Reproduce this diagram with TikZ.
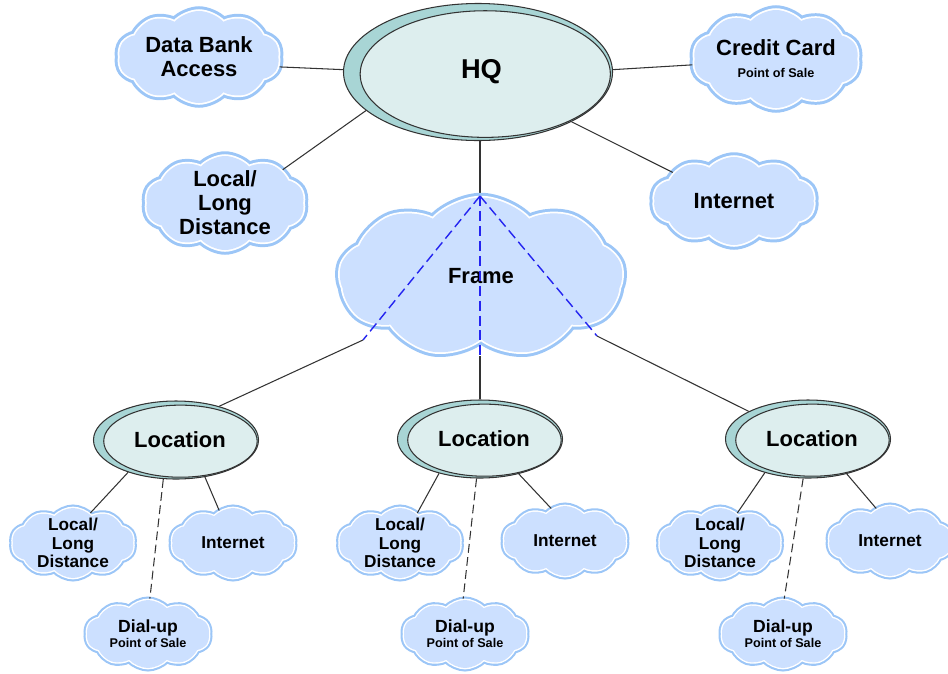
\documentclass[tikz,border=0pt]{standalone}
\usepackage{fontspec}
\setmainfont{Liberation Sans}
\usetikzlibrary{shapes.symbols,shapes.geometric,calc}

\definecolor{cloudfill}{HTML}{CCE0FF}
\definecolor{cloudedge}{HTML}{9CC6F7}
\definecolor{ringfill}{HTML}{A8D5D5}
\definecolor{corefill}{HTML}{DDEEEE}
\definecolor{framedash}{HTML}{2424F0}

\tikzset{
  cloudbase/.style={cloud, cloud puffs=10, cloud puff arc=95, cloud ignores aspect, inner sep=0pt,
    draw=white, postaction={fill=cloudfill}, align=center},
  puff/.style={cloudbase, preaction={draw=cloudedge, line width=5.4pt}, line width=2pt},
  minipuff/.style={cloudbase, preaction={draw=cloudedge, line width=4pt}, line width=1.6pt},
  ring/.style={ellipse, draw=black!80, line width=0.6pt, fill=ringfill, inner sep=0pt,
    path picture={
      \draw[black!80, line width=0.6pt, fill=corefill]
        let \p1=(path picture bounding box.south west),
            \p2=(path picture bounding box.north east) in
        ($(\p1)!0.5!(\p2)+({0.027*(\x2-\x1)},{-0.015*(\y2-\y1)})$)
        ellipse ({0.465*(\x2-\x1)} and {0.462*(\y2-\y1)});
    }},
  big/.style={font=\bfseries\fontsize{12.5}{13.6}\selectfont},
  small/.style={font=\bfseries\fontsize{9.8}{10.4}\selectfont},
  link/.style={draw=black!80, line width=0.6pt},
  dialink/.style={link, dash pattern=on 5pt off 2.5pt},
  framelink/.style={draw=framedash, line width=0.8pt, dash pattern=on 5.7pt off 2.8pt}
}
\newcommand{\pos}{\fontsize{7.2}{8}\selectfont Point of Sale}

\begin{document}
\begin{tikzpicture}[x=0.2mm, y=-0.2mm]
  \useasboundingbox (0,0) rectangle (948,673);

  % links behind the shapes
  \coordinate (ftop) at (480,196);
  \coordinate (fleft) at (363,340);
  \coordinate (fright) at (597,336);
  \coordinate (fbot) at (480,356);

  % top level
  \node[ring, minimum width=53.8mm, minimum height=27.4mm,
        font=\bfseries\fontsize{15.5}{17}\selectfont] (hq) at (478,72) {\hspace{1.4mm}HQ};
  \node[puff, big, minimum width=32.2mm, minimum height=18.4mm, inner ysep=-3pt] (dba) at (199,57) {Data Bank\\Access};
  \node[puff, big, minimum width=32.6mm, minimum height=19.6mm, inner ysep=-4pt] (ccard) at (776,59) {Credit Card\\[-1pt]{\pos}};
  \node[puff, big, minimum width=31.8mm, minimum height=18.8mm, inner ysep=-6pt] (lld) at (225,203) {Local/\\Long\\Distance};
  \node[puff, big, minimum width=32.2mm, minimum height=17.6mm] (inet) at (734,201) {Internet};

  \draw[link] (hq.179) -- (dba.353);
  \draw[link] (hq.1) -- (ccard.184);
  \draw[link] (hq.199) -- (lld.30);
  \draw[link] (hq.332) -- (inet.155);
  \draw[link] (ftop |- hq.south) -- (ftop);

  % frame relay
  \node[puff, big, cloud puffs=9, minimum width=56.6mm, minimum height=31.8mm] (frame) at (481,277) {};
  \node[big] (framelabel) at (481,276) {Frame};
  \draw[framelink] (ftop) -- (fleft);
  \draw[framelink] (ftop) -- (fbot);
  \draw[framelink] (ftop) -- (fright);

  % locations
  \node[ring, big, minimum width=33mm, minimum height=15.6mm] (loca) at (176,440) {\hspace{1.6mm}Location};
  \node[ring, big, minimum width=33mm, minimum height=15.6mm] (locb) at (480,439) {\hspace{1.6mm}Location};
  \node[ring, big, minimum width=33mm, minimum height=15.6mm] (locc) at (808,439) {\hspace{1.6mm}Location};

  \draw[link] (fleft) -- (loca.38);
  \draw[link] (fbot) -- (locb.north);
  \draw[link] (fright) -- (locc.155);

  % first location
  \node[minipuff, small, minimum width=24.4mm, minimum height=14mm, inner ysep=-8pt] (llda) at (73,543) {Local/\\Long\\Distance};
  \node[minipuff, small, minimum width=24.6mm, minimum height=14mm] (ineta) at (233,543) {Internet};
  \node[minipuff, small, minimum width=24.6mm, minimum height=13.6mm, inner ysep=-3pt] (diala) at (148,634) {\fontsize{10}{11}\selectfont Dial-up\\[-2pt]{\pos}};
  \draw[link] (loca.214) -- (llda.60);
  \draw[link] (loca.308) -- (ineta.113);
  \draw[dialink] (loca.252) -- (diala.87);

  % second location
  \node[minipuff, small, minimum width=24.4mm, minimum height=14mm, inner ysep=-8pt] (lldb) at (400,543) {Local/\\Long\\Distance};
  \node[minipuff, small, minimum width=24.6mm, minimum height=14mm] (inetb) at (565,541) {Internet};
  \node[minipuff, small, minimum width=24.6mm, minimum height=13.6mm, inner ysep=-3pt] (dialb) at (465,634) {\fontsize{10}{11}\selectfont Dial-up\\[-2pt]{\pos}};
  \draw[link] (locb.220) -- (lldb.60);
  \draw[link] (locb.318) -- (inetb.113);
  \draw[dialink] (locb.265) -- (dialb.93);

  % third location
  \node[minipuff, small, minimum width=24.4mm, minimum height=14mm, inner ysep=-8pt] (lldc) at (720,543) {Local/\\Long\\Distance};
  \node[minipuff, small, minimum width=24.6mm, minimum height=14mm] (inetc) at (890,541) {Internet};
  \node[minipuff, small, minimum width=24.6mm, minimum height=13.6mm, inner ysep=-3pt] (dialc) at (783,634) {\fontsize{10}{11}\selectfont Dial-up\\[-2pt]{\pos}};
  \draw[link] (locc.218) -- (lldc.60);
  \draw[link] (locc.318) -- (inetc.113);
  \draw[dialink] (locc.263) -- (dialc.88);
\end{tikzpicture}
\end{document}
